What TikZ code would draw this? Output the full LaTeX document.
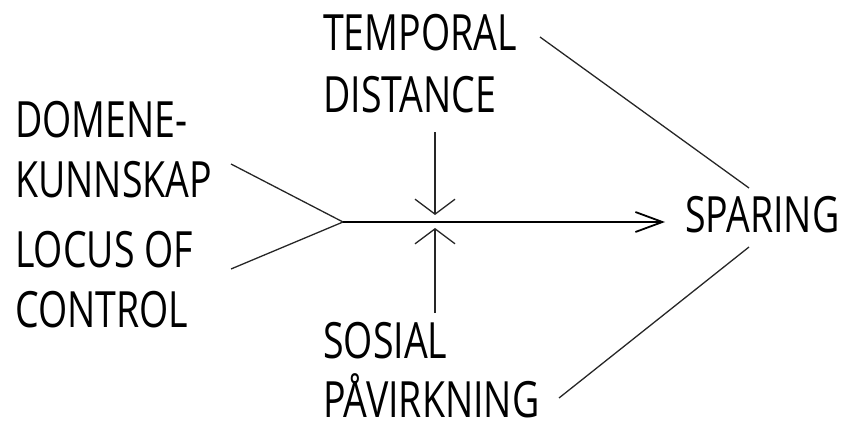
\documentclass[tikz,border=0pt]{standalone}
\usepackage{fontspec}
\setmainfont[FakeStretch=0.75]{Open Sans}
\usetikzlibrary{arrows.meta}
\begin{document}
\begin{tikzpicture}[x=1pt,y=-1pt,
  lbl/.style={anchor=base west, inner sep=0pt, font=\fontsize{50}{60}\selectfont},
  thinline/.style={line width=1.3pt, draw=black!85},
  mainline/.style={line width=1.8pt, draw=black},
  hbarb/.style={-{Straight Barb[length=27pt,width=20pt]}},
  vbarb/.style={-{Straight Barb[length=15pt,width=40pt]}}]
\useasboundingbox (0,0) rectangle (844,428);
% labels
\node[lbl] (temporal) at (323,51) {TEMPORAL};
\node[lbl] (distance) at (323,112) {DISTANCE};
\node[lbl] (domene) at (15,137) {DOMENE-};
\node[lbl] (kunnskap) at (15,197) {KUNNSKAP};
\node[lbl] (locus) at (15,267) {LOCUS OF};
\node[lbl] (control) at (15,327) {CONTROL};
\node[lbl] (sosial) at (323,358) {SOSIAL};
\node[lbl] (pavirkning) at (323,417) {PÅVIRKNING};
\node[lbl] (sparing) at (685,232) {SPARING};
% connector ends
\coordinate (j) at (343,222);
\coordinate (kEnd) at (231,164);
\coordinate (lEnd) at (231,269);
\coordinate (spIn) at (665,222);
\coordinate (vTop) at (435,132);
\coordinate (vTopTip) at (435,215);
\coordinate (vBot) at (435,313);
\coordinate (vBotTip) at (435,228);
\coordinate (tEnd) at (540,37);
\coordinate (tSp) at (749,188);
\coordinate (pEnd) at (559,398);
\coordinate (pSp) at (749,247);
% connectors
\draw[thinline] (kEnd) -- (j);
\draw[thinline] (lEnd) -- (j);
\draw[mainline, hbarb] (j) -- (spIn);
\draw[thinline, vbarb] (vTop) -- (vTopTip);
\draw[thinline, vbarb] (vBot) -- (vBotTip);
\draw[thinline] (tEnd) -- (tSp);
\draw[thinline] (pEnd) -- (pSp);
\end{tikzpicture}
\end{document}
